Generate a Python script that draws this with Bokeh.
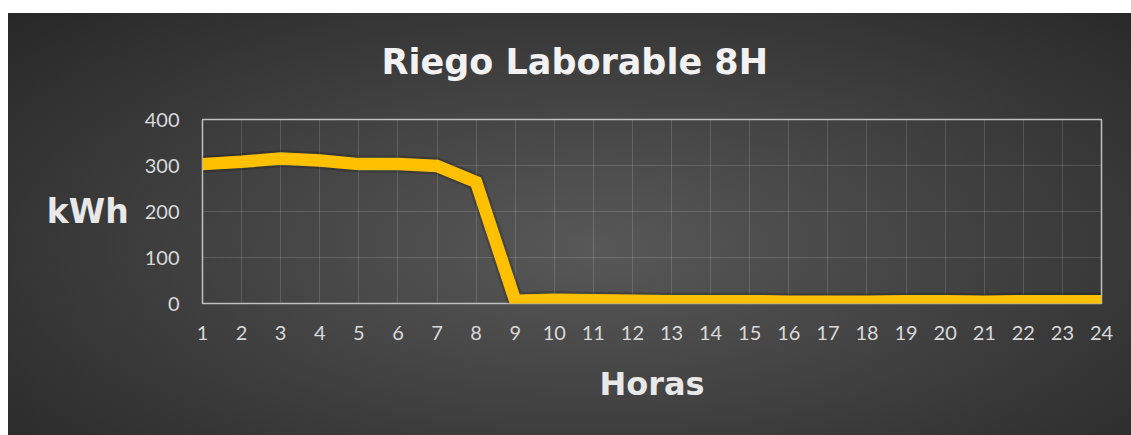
from bokeh.plotting import figure
from bokeh.models import Range1d, FixedTicker
from bokeh.embed import file_html
from bokeh.resources import INLINE

# Data
horas = list(range(1, 25))
kwh = [303, 308, 315, 311, 303, 303, 299, 264,
       6, 8, 7, 6, 5, 5, 5, 4, 4, 4, 5, 5, 4, 5, 5, 5]
x_ticks = list(range(1, 25))
y_ticks = [0, 100, 200, 300, 400]
title_text = "Riego Laborable 8H"
x_label = "Horas"
y_label = "kWh"

p = figure(width=1123, height=435, output_backend="svg", toolbar_location=None,
           x_range=Range1d(1, 24), y_range=Range1d(0, 400),
           min_border_left=194, min_border_right=30,
           min_border_top=119, min_border_bottom=132)

p.styles = {"margin-top": "0px", "margin-left": "8px",
            "background": "linear-gradient(#ffffff, #ffffff) 0 0 / 100% 13px no-repeat, "
                          "radial-gradient(ellipse farthest-corner at 52% 57%, #585858 0%, #474747 35%, #262626 100%)"}
p.border_fill_alpha = 0
p.background_fill_alpha = 0
p.outline_line_color = "#bfbfbf"
p.outline_line_width = 1.5

p.title.text = title_text
p.title.align = "left"
p.title.offset = 179
p.title.text_color = "#f2f2f2"
p.title.text_font = "DejaVu Sans"
p.title.text_font_style = "bold"
p.title.text_font_size = "35px"
p.title.standoff = 75

p.xaxis.ticker = FixedTicker(ticks=x_ticks)
p.yaxis.ticker = FixedTicker(ticks=y_ticks)
for ax in (p.xaxis, p.yaxis):
    ax.axis_line_color = None
    ax.major_tick_line_color = None
    ax.minor_tick_line_color = None
    ax.major_label_text_color = "#d9d9d9"
    ax.major_label_text_font = "Lato"
    ax.major_label_text_font_size = "20px"
    ax.axis_label_text_color = "#e8e8e8"
    ax.axis_label_text_font = "DejaVu Sans"
    ax.axis_label_text_font_style = "bold"

p.xaxis.axis_label = x_label
p.yaxis.axis_label = y_label
p.xaxis.axis_label_text_font_size = "32px"
p.yaxis.axis_label_text_font_size = "33px"
p.yaxis.axis_label_orientation = "horizontal"
p.xaxis.major_label_standoff = 16
p.yaxis.major_label_standoff = 17
p.xaxis.axis_label_standoff = 22
p.yaxis.axis_label_standoff = 13

p.xgrid.ticker = FixedTicker(ticks=x_ticks)
p.ygrid.ticker = FixedTicker(ticks=y_ticks)
p.grid.grid_line_color = "white"
p.grid.grid_line_alpha = 0.14
p.grid.grid_line_width = 1

# shadow-ish underlay
p.line(horas, kwh, line_color="black", line_alpha=0.18, line_width=17, line_join="miter")
p.line(horas, kwh, line_color="#FFC000", line_width=12.5, line_join="miter")

open("out.html", "w").write(file_html(p, INLINE))
